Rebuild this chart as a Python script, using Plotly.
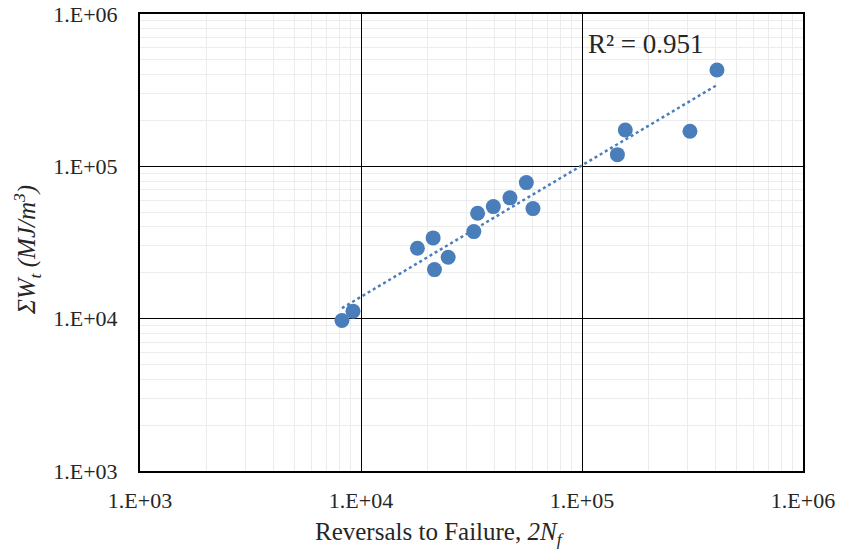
import numpy as np
import plotly.graph_objects as go

# Reversals to failure (2Nf) and total strain energy density (MJ/m^3)
reversals = [8200, 9200, 18000, 21200, 21500, 24800, 32400, 33700, 39700,
             47200, 56000, 60000, 144600, 157000, 308000, 408000]
energy = [9730, 11200, 29000, 33900, 21000, 25300, 37300, 49200, 54400,
          62100, 78200, 52800, 119300, 173300, 169900, 428700]

tick_vals = [1e3, 1e4, 1e5, 1e6]
tick_text = ["1.E+03", "1.E+04", "1.E+05", "1.E+06"]
r2_label = "R² = 0.951"

BLUE = "#4A7EBB"
TEXT = "#262626"
FONT = "Liberation Serif, Times New Roman, serif"

# Power-law trendline fitted in log-log space
lx, ly = np.log10(reversals), np.log10(energy)
slope, intercept = np.polyfit(lx, ly, 1)
fit_x = np.array([min(reversals), max(reversals)])
fit_y = 10 ** (intercept + slope * np.log10(fit_x))

fig = go.Figure()
fig.add_trace(go.Scatter(
    x=fit_x, y=fit_y, mode="lines",
    line=dict(color=BLUE, width=2.5, dash="dot"),
    hoverinfo="skip", showlegend=False,
))
fig.add_trace(go.Scatter(
    x=reversals, y=energy, mode="markers",
    marker=dict(color=BLUE, size=15, line=dict(width=0)),
    showlegend=False,
))

axis_common = dict(
    type="log", automargin=False,
    tickvals=tick_vals, ticktext=tick_text,
    showgrid=True, gridcolor="black", gridwidth=1,
    showline=True, linecolor="black", linewidth=2, mirror=True,
    ticks="", zeroline=False,
    tickfont=dict(family=FONT, size=22, color=TEXT),
    minor=dict(showgrid=True, gridcolor="#ececec", gridwidth=1, dtick="D1", ticks=""),
)

fig.update_xaxes(range=[3, 6], ticklabelstandoff=9, **axis_common)
fig.update_yaxes(range=[3, 6], ticklabelstandoff=16, **axis_common)

# Axis titles
fig.add_annotation(
    x=-0.1704, y=0.4835, xref="paper", yref="paper",
    text="<i>ΣW<sub>t</sub> (MJ/m<sup>3</sup>)</i>", textangle=-90,
    showarrow=False, xanchor="center", yanchor="middle",
    font=dict(family=FONT, size=25, color=TEXT),
)
fig.add_annotation(
    x=0.4517, y=-0.136, xref="paper", yref="paper",
    text="Reversals to Failure, <i>2N<sub>f</sub></i>",
    showarrow=False, xanchor="center", yanchor="middle",
    font=dict(family=FONT, size=25, color=TEXT),
)

# Coefficient of determination for the trendline
fig.add_annotation(
    x=np.log10(1.955e5), y=np.log10(6.38e5), xref="x", yref="y",
    text=r2_label, showarrow=False, xanchor="center", yanchor="middle",
    font=dict(family=FONT, size=27, color=TEXT),
)

fig.update_layout(
    width=844, height=552,
    margin=dict(l=140, r=41, t=14, b=81),
    paper_bgcolor="white", plot_bgcolor="white",
)

fig.write_html("out.html")
